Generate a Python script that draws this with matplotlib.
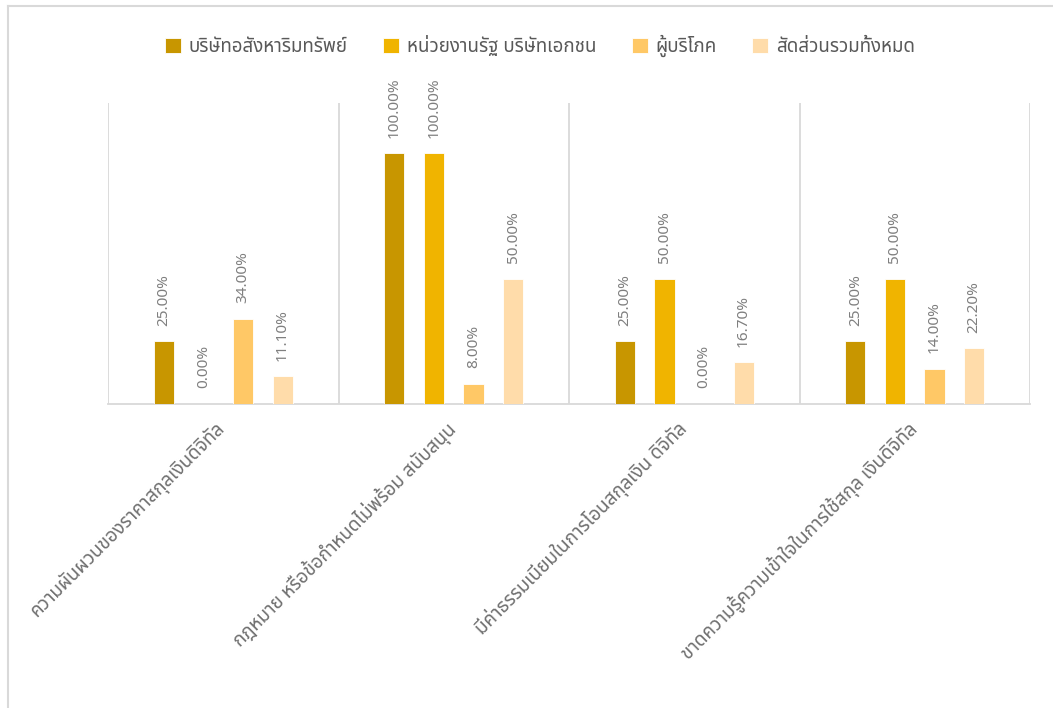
import numpy as np
import matplotlib
matplotlib.use("Agg")
import matplotlib.pyplot as plt
from matplotlib import font_manager
from matplotlib.ft2font import FT2Font
from matplotlib.lines import Line2D

# Categories and series (shares, in percent)
categories = [
    "ความผันผวนของราคาสกุลเงินดิจิทัล",
    "กฎหมาย หรือข้อกำหนดไม่พร้อม สนับสนุน",
    "มีค่าธรรมเนียมในการโอนสกุลเงิน ดิจิทัล",
    "ขาดความรู้ความเข้าใจในการใช้สกุล เงินดิจิทัล",
]
series_names = [
    "บริษัทอสังหาริมทรัพย์",
    "หน่วยงานรัฐ บริษัทเอกชน",
    "ผู้บริโภค",
    "สัดส่วนรวมทั้งหมด",
]
real_estate = [25.0, 100.0, 25.0, 25.0]
government_private = [0.0, 100.0, 50.0, 50.0]
consumers = [34.0, 8.0, 0.0, 14.0]
overall = [11.1, 50.0, 16.7, 22.2]

colors = ["#C89600", "#F0B400", "#FFC866", "#FFDCAA"]


def find_thai_font():
    # pick the first installed family that actually has Thai glyphs
    preferred = ["Noto Sans Thai", "Noto Sans Thai UI", "Noto Serif Thai",
                 "Loma", "Garuda", "Norasi", "Tlwg Typo", "Kinnari",
                 "Sawasdee", "Umpush", "Waree", "Tahoma", "Leelawadee UI"]
    by_name = {}
    for f in font_manager.fontManager.ttflist:
        by_name.setdefault(f.name, f.fname)
    names = [n for n in preferred if n in by_name] + sorted(by_name)
    for name in names:
        try:
            cmap = FT2Font(by_name[name]).get_charmap()
        except Exception:
            continue
        if 0x0E01 in cmap and 0x0E31 in cmap:
            return name
    return None


thai = find_thai_font()
families = ([thai] if thai else []) + ["DejaVu Sans"]
plt.rcParams["font.family"] = families

W, H = 1053, 708
fig = plt.figure(figsize=(W / 100, H / 100), dpi=100)
ax = fig.add_axes([108 / W, 1 - 404 / H, 922 / W, 301 / H])

# chart frame: only its top and left edges fall inside the image
frame_kw = dict(transform=fig.transFigure, color="#d9d9d9", linewidth=1.5)
fig.lines.append(Line2D([7.5 / W, 1.0], [1 - 5.5 / H] * 2, **frame_kw))
fig.lines.append(Line2D([7.5 / W] * 2, [0.0, 1 - 5.5 / H], **frame_kw))

x = np.arange(len(categories))
width = 0.087
offsets = np.array([-1.5, -0.5, 0.5, 1.5]) * 0.1715
data = [real_estate, government_private, consumers, overall]

for vals, off, col, name in zip(data, offsets, colors, series_names):
    bars = ax.bar(x + off, vals, width, color=col, edgecolor="white",
                  linewidth=0.6, label=name, zorder=3)
    for b, v in zip(bars, vals):
        ax.text(b.get_x() + b.get_width() / 2, v + 6.2, f"{v:.2f}%",
                rotation=90, ha="center", va="bottom", color="#7f7f7f",
                fontsize=11)

ax.set_xlim(-0.5, len(categories) - 0.5)
ax.set_ylim(0, 120)
ax.set_yticks([])
ax.set_xticks([])

# vertical separators between categories
for pos in np.arange(-0.5, len(categories), 1.0):
    ax.axvline(pos, color="#d9d9d9", linewidth=1.3, zorder=1)

for s in ["top", "left", "right"]:
    ax.spines[s].set_visible(False)
ax.spines["bottom"].set_color("#d9d9d9")
ax.spines["bottom"].set_linewidth(1.3)

# rotated category labels
for xi, cat in zip(x, categories):
    ax.annotate(cat, xy=(xi, 0), xycoords=("data", "axes fraction"),
                xytext=(-6, -10), textcoords="offset points",
                rotation=45, rotation_mode="anchor", ha="right", va="top",
                color="#6f6f6f", fontsize=13.5)

handles, labels = ax.get_legend_handles_labels()
fig.legend(handles, labels, loc="center", bbox_to_anchor=(540 / W, 1 - 46 / H),
           ncol=4, frameon=False, fontsize=13.5, labelcolor="#595959",
           handlelength=0.85, handleheight=0.85, handletextpad=0.4,
           columnspacing=1.9)

fig.savefig("out.png", dpi=100)
